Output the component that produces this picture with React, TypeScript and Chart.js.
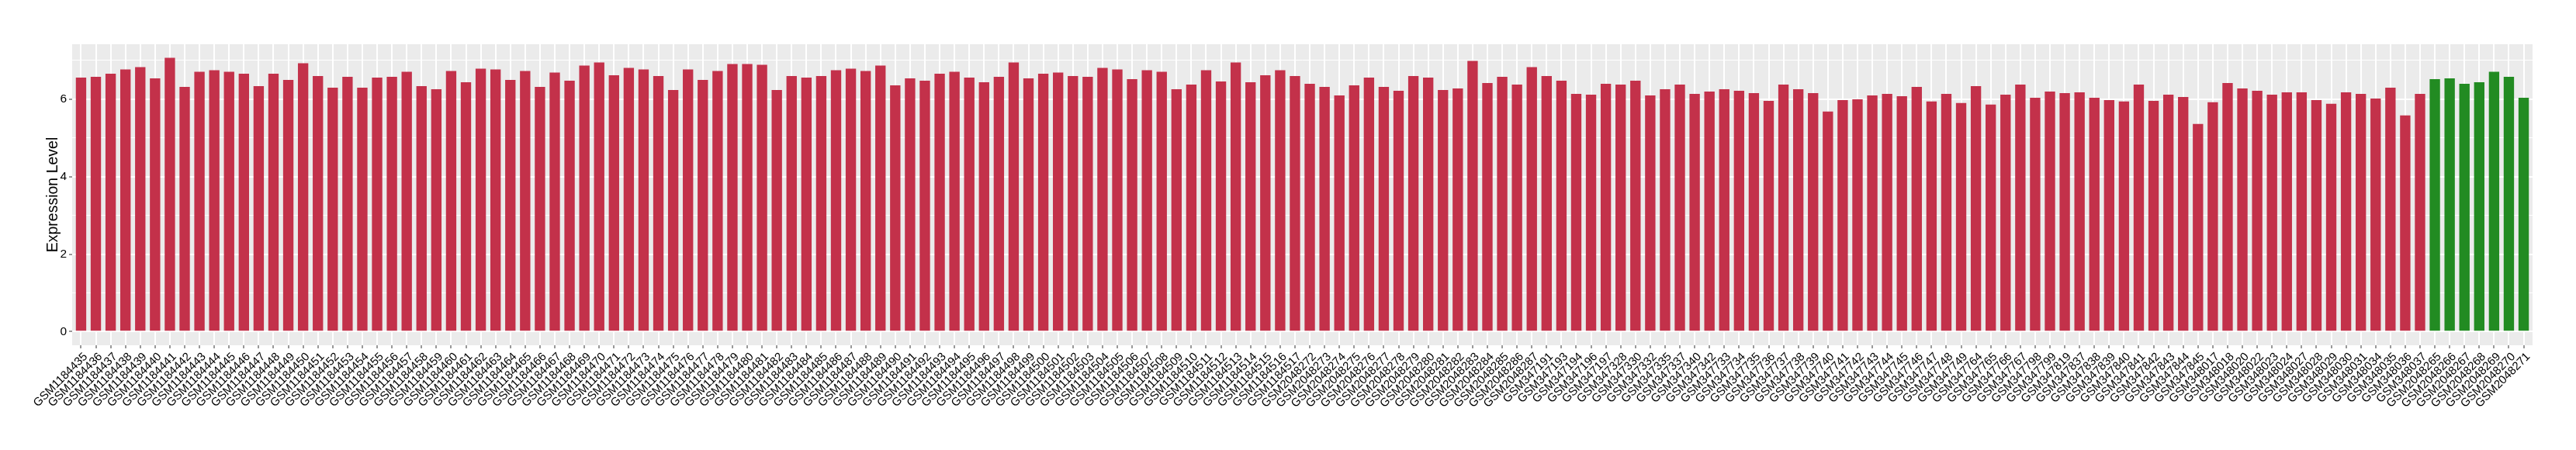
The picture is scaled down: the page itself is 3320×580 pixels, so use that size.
import { useEffect, useRef } from "react";
import { Chart, registerables } from "chart.js";

Chart.register(...registerables);

const sampleLabels: string[] = [
  "GSM1184435", "GSM1184436", "GSM1184437", "GSM1184438", "GSM1184439", "GSM1184440", "GSM1184441", "GSM1184442",
  "GSM1184443", "GSM1184444", "GSM1184445", "GSM1184446", "GSM1184447", "GSM1184448", "GSM1184449", "GSM1184450",
  "GSM1184451", "GSM1184452", "GSM1184453", "GSM1184454", "GSM1184455", "GSM1184456", "GSM1184457", "GSM1184458",
  "GSM1184459", "GSM1184460", "GSM1184461", "GSM1184462", "GSM1184463", "GSM1184464", "GSM1184465", "GSM1184466",
  "GSM1184467", "GSM1184468", "GSM1184469", "GSM1184470", "GSM1184471", "GSM1184472", "GSM1184473", "GSM1184474",
  "GSM1184475", "GSM1184476", "GSM1184477", "GSM1184478", "GSM1184479", "GSM1184480", "GSM1184481", "GSM1184482",
  "GSM1184483", "GSM1184484", "GSM1184485", "GSM1184486", "GSM1184487", "GSM1184488", "GSM1184489", "GSM1184490",
  "GSM1184491", "GSM1184492", "GSM1184493", "GSM1184494", "GSM1184495", "GSM1184496", "GSM1184497", "GSM1184498",
  "GSM1184499", "GSM1184500", "GSM1184501", "GSM1184502", "GSM1184503", "GSM1184504", "GSM1184505", "GSM1184506",
  "GSM1184507", "GSM1184508", "GSM1184509", "GSM1184510", "GSM1184511", "GSM1184512", "GSM1184513", "GSM1184514",
  "GSM1184515", "GSM1184516", "GSM1184517",
  "GSM2048272", "GSM2048273", "GSM2048274", "GSM2048275", "GSM2048276", "GSM2048277", "GSM2048278", "GSM2048279",
  "GSM2048280", "GSM2048281", "GSM2048282", "GSM2048283", "GSM2048284", "GSM2048285", "GSM2048286", "GSM2048287",
  "GSM347191", "GSM347193", "GSM347194", "GSM347196", "GSM347197", "GSM347328", "GSM347330", "GSM347332",
  "GSM347335", "GSM347337", "GSM347340", "GSM347342", "GSM347733", "GSM347734", "GSM347735", "GSM347736",
  "GSM347737", "GSM347738", "GSM347739", "GSM347740", "GSM347741", "GSM347742", "GSM347743", "GSM347744",
  "GSM347745", "GSM347746", "GSM347747", "GSM347748", "GSM347749", "GSM347764", "GSM347765", "GSM347766",
  "GSM347767", "GSM347798", "GSM347799", "GSM347819", "GSM347837", "GSM347838", "GSM347839", "GSM347840",
  "GSM347841", "GSM347842", "GSM347843", "GSM347844", "GSM347845", "GSM348017", "GSM348018", "GSM348020",
  "GSM348022", "GSM348023", "GSM348024", "GSM348027", "GSM348028", "GSM348029", "GSM348030", "GSM348031",
  "GSM348034", "GSM348035", "GSM348036", "GSM348037",
  "GSM2048265", "GSM2048266", "GSM2048267", "GSM2048268", "GSM2048269", "GSM2048270", "GSM2048271",
];

const expressionValues: number[] = [
  6.56, 6.58, 6.66, 6.77, 6.83, 6.54, 7.07, 6.32, 6.71, 6.75,
  6.71, 6.66, 6.34, 6.66, 6.50, 6.93, 6.60, 6.30, 6.58, 6.30,
  6.56, 6.58, 6.71, 6.34, 6.26, 6.73, 6.44, 6.79, 6.77, 6.50,
  6.73, 6.32, 6.69, 6.48, 6.87, 6.95, 6.62, 6.81, 6.77, 6.60,
  6.24, 6.77, 6.50, 6.73, 6.91, 6.91, 6.89, 6.24, 6.60, 6.56,
  6.60, 6.75, 6.79, 6.73, 6.87, 6.36, 6.54, 6.48, 6.66, 6.71,
  6.56, 6.44, 6.58, 6.95, 6.54, 6.66, 6.69, 6.60, 6.58, 6.81,
  6.77, 6.52, 6.75, 6.71, 6.26, 6.38, 6.75, 6.46, 6.95, 6.44,
  6.62, 6.75, 6.60, 6.40, 6.32, 6.10, 6.36, 6.56, 6.32, 6.22,
  6.60, 6.56, 6.24, 6.28, 6.99, 6.42, 6.58, 6.38, 6.83, 6.60,
  6.48, 6.14, 6.12, 6.40, 6.38, 6.48, 6.10, 6.26, 6.38, 6.14,
  6.20, 6.26, 6.22, 6.16, 5.96, 6.38, 6.26, 6.16, 5.68, 5.98,
  6.00, 6.10, 6.14, 6.08, 6.32, 5.94, 6.14, 5.90, 6.34, 5.86,
  6.12, 6.38, 6.04, 6.20, 6.16, 6.18, 6.04, 5.98, 5.94, 6.38,
  5.96, 6.12, 6.06, 5.36, 5.92, 6.42, 6.28, 6.22, 6.12, 6.18,
  6.18, 5.98, 5.88, 6.18, 6.14, 6.02, 6.30, 5.58, 6.14,
  6.52, 6.54, 6.40, 6.44, 6.71, 6.58, 6.04,
];

const greenSamples: string[] = [
  "GSM2048265", "GSM2048266", "GSM2048267", "GSM2048268", "GSM2048269", "GSM2048270", "GSM2048271",
];

const yTickLabels: number[] = [0, 2, 4, 6];
const yTitle = "Expression Level";

const RED = "#C3314A";
const GREEN = "#228B22";
const FONT = "'Liberation Sans', Arial, Helvetica, sans-serif";

export default function App() {
  const ref = useRef<HTMLCanvasElement>(null);

  useEffect(() => {
    const canvas = ref.current;
    if (!canvas) return;

    const panelBg = {
      id: "panelBg",
      beforeDraw(chart: any) {
        const { ctx, chartArea: a } = chart;
        ctx.save();
        ctx.fillStyle = "#FFFFFF";
        ctx.fillRect(0, 0, chart.width, chart.height);
        ctx.fillStyle = "#EBEBEB";
        ctx.fillRect(a.left, a.top, a.right - a.left, a.bottom - a.top);
        ctx.restore();
      },
    };

    const chart = new Chart(canvas, {
      type: "bar",
      data: {
        datasets: [
          {
            data: expressionValues.map((v, i) => ({ x: i, y: v })),
            backgroundColor: sampleLabels.map((l) => (greenSamples.includes(l) ? GREEN : RED)),
            barPercentage: 0.7,
            categoryPercentage: 1,
            borderWidth: 0,
          },
        ],
      },
      options: {
        responsive: false,
        animation: false,
        devicePixelRatio: 1,
        layout: { padding: { top: 57, right: 56, left: 0, bottom: 0 } },
        plugins: { legend: { display: false }, tooltip: { enabled: false } },
        scales: {
          x: {
            type: "linear",
            min: -0.6,
            max: sampleLabels.length - 0.4,
            offset: false,
            border: { display: false },
            grid: {
              offset: false,
              color: "#FFFFFF",
              lineWidth: 2,
              drawTicks: true,
              tickLength: 4,
              tickColor: "#333333",
              tickWidth: 1,
            },
            ticks: {
              stepSize: 1,
              autoSkip: false,
              includeBounds: false,
              maxRotation: 45,
              minRotation: 45,
              padding: 2,
              labelOffset: 6,
              color: "#000000",
              font: { family: FONT, size: 15 },
              callback: (v: any) => sampleLabels[v as number] ?? "",
            },
            afterFit: (s: any) => {
              s.height = 135;
            },
          },
          y: {
            type: "linear",
            min: -0.3533,
            max: 7.42,
            border: { display: false },
            grid: {
              color: "#FFFFFF",
              lineWidth: (c: any) => (c.tick && c.tick.value % 2 === 0 ? 2 : 1),
              drawTicks: true,
              tickLength: 4,
              tickColor: (c: any) => (c.tick && c.tick.value % 2 === 0 ? "#333333" : "rgba(0,0,0,0)"),
              tickWidth: 1,
            },
            ticks: {
              stepSize: 1,
              includeBounds: false,
              padding: 3,
              color: "#000000",
              font: { family: FONT, size: 15.5 },
              callback: (v: any) => (yTickLabels.includes(v as number) ? String(v) : ""),
            },
            title: {
              display: true,
              text: yTitle,
              color: "#000000",
              font: { family: FONT, size: 19.5 },
              padding: { top: 56.5, bottom: 0 },
            },
            afterFit: (s: any) => {
              s.width = 93;
            },
          },
        },
      },
      plugins: [panelBg],
    } as any);

    return () => chart.destroy();
  }, []);

  return (
    <div style={{ position: "absolute", left: 0, top: 0, width: 3320, height: 580 }}>
      <canvas ref={ref} width={3320} height={580} style={{ display: "block" }} />
    </div>
  );
}
